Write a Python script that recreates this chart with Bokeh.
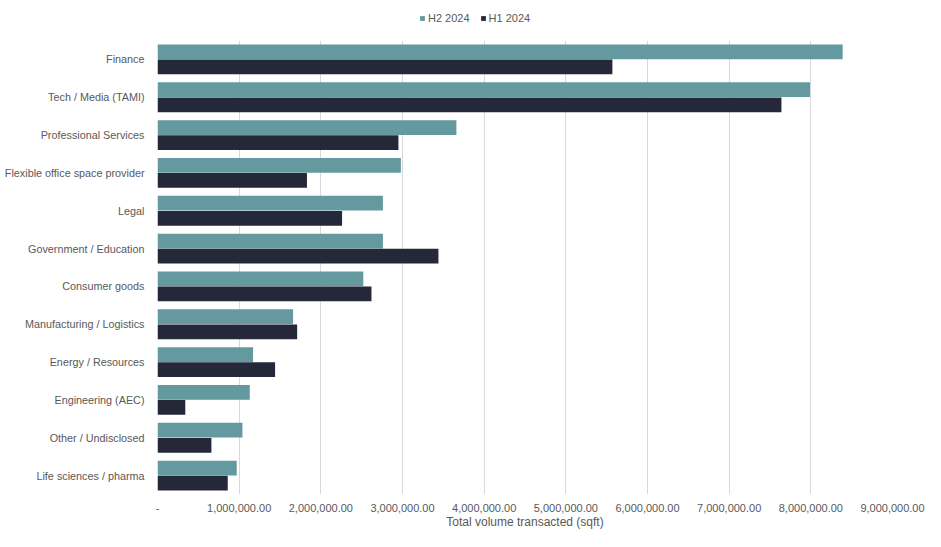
from bokeh.plotting import figure
from bokeh.layouts import column
from bokeh.models import (FactorRange, Range1d, FixedTicker, CustomJSTickFormatter,
                          Legend, LegendItem, ColumnDataSource)
from bokeh.transform import dodge
from bokeh.embed import file_html
from bokeh.resources import INLINE

categories = ["Finance", "Tech / Media (TAMI)", "Professional Services",
              "Flexible office space provider", "Legal", "Government / Education",
              "Consumer goods", "Manufacturing / Logistics", "Energy / Resources",
              "Engineering (AEC)", "Other / Undisclosed", "Life sciences / pharma"]
h2_2024 = [8390000, 7990000, 3660000, 2980000, 2760000, 2760000,
           2520000, 1660000, 1170000, 1130000, 1040000, 970000]
h1_2024 = [5570000, 7640000, 2950000, 1830000, 2260000, 3440000,
           2620000, 1710000, 1440000, 340000, 660000, 860000]
x_ticks = [0, 1000000, 2000000, 3000000, 4000000, 5000000,
           6000000, 7000000, 8000000, 9000000]
series_names = ["H2 2024", "H1 2024"]
colors = ["#64999f", "#252839"]
x_title = "Total volume transacted (sqft)"

FONT = "Liberation Sans"
GRAY = "#595959"
W = 925

# ---- legend strip (its frame is aligned with the main chart's frame) ----
leg_fig = figure(width=W, height=32, output_backend="svg", toolbar_location=None,
                 x_axis_type=None, y_axis_type=None,
                 x_range=Range1d(0, 1), y_range=Range1d(0, 1),
                 min_border=0)
leg_fig.outline_line_color = None
leg_fig.grid.grid_line_color = None
# swatch renderers: their single bar lies far outside the visible range
lr2 = leg_fig.hbar(y=[-50], right=[-40], left=-41, height=0.5,
                   fill_color=colors[0], line_color=None)
lr1 = leg_fig.hbar(y=[-50], right=[-40], left=-41, height=0.5,
                   fill_color=colors[1], line_color=None)
legend = Legend(items=[LegendItem(label=series_names[0], renderers=[lr2]),
                       LegendItem(label=series_names[1], renderers=[lr1])],
                orientation="horizontal", location=(262, 8))
legend.glyph_width = 6
legend.glyph_height = 6
legend.label_standoff = 3
legend.spacing = 10
legend.padding = 2
legend.margin = 0
legend.label_height = 12
legend.label_text_font = FONT
legend.label_text_font_size = "11px"
legend.label_text_color = GRAY
legend.border_line_color = None
legend.background_fill_alpha = 0
leg_fig.add_layout(legend, "center")

# ---- main chart ----
source = ColumnDataSource(data=dict(cat=categories, h2=h2_2024, h1=h1_2024))

p = figure(width=W, height=499, output_backend="svg", toolbar_location=None,
           y_range=FactorRange(factors=list(reversed(categories)), range_padding=0),
           x_range=Range1d(0, 9000000),
           min_border_left=157, min_border_right=33, min_border_top=8,
           min_border_bottom=35)
p.outline_line_color = None
p.background_fill_color = "white"
p.border_fill_color = "white"

r2 = p.hbar(y=dodge("cat", 0.2, range=p.y_range), right="h2", left=0, height=0.39,
            source=source, fill_color=colors[0], line_color=None)
r1 = p.hbar(y=dodge("cat", -0.2, range=p.y_range), right="h1", left=0, height=0.39,
            source=source, fill_color=colors[1], line_color=None)

p.xaxis.ticker = FixedTicker(ticks=x_ticks)
p.xaxis.formatter = CustomJSTickFormatter(code="""
if (tick == 0) { return '-'; }
return tick.toLocaleString('en-US', {minimumFractionDigits: 2, maximumFractionDigits: 2});
""")
p.xaxis.axis_label = x_title
p.xaxis.axis_line_color = None
p.xaxis.major_tick_line_color = None
p.xaxis.minor_tick_line_color = None
p.xaxis.major_label_standoff = 3
p.xaxis.axis_label_standoff = 0
p.xaxis.major_label_text_font = FONT
p.xaxis.major_label_text_font_size = "11px"
p.xaxis.major_label_text_color = GRAY
p.xaxis.axis_label_text_font = FONT
p.xaxis.axis_label_text_font_size = "12px"
p.xaxis.axis_label_text_font_style = "normal"
p.xaxis.axis_label_text_color = GRAY

p.yaxis.axis_line_color = None
p.yaxis.major_tick_line_color = None
p.yaxis.minor_tick_line_color = None
p.yaxis.major_label_standoff = 7
p.yaxis.major_label_text_font = FONT
p.yaxis.major_label_text_font_size = "10.8px"
p.yaxis.major_label_text_color = GRAY

p.ygrid.grid_line_color = None
p.xgrid.grid_line_color = "#d9d9d9"
p.xgrid.grid_line_width = 1

layout = column(leg_fig, p, spacing=0)
open("out.html", "w").write(file_html(layout, INLINE))
